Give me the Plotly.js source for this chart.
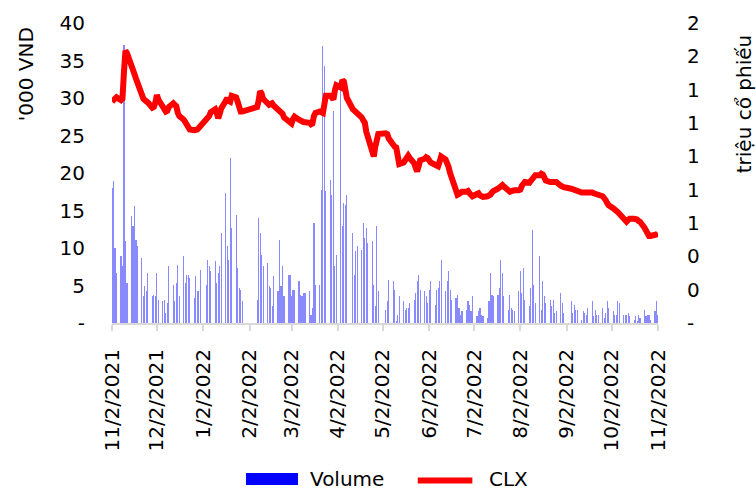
<!DOCTYPE html>
<html>
<head>
<meta charset="utf-8">
<script src="https://cdn.plot.ly/plotly-3.0.1.min.js"></script>
<style>
  html, body { margin: 0; padding: 0; background: #fff; }
  #chart { width: 756px; height: 491px; }
</style>
</head>
<body>
<div id="chart"></div>
<script>
// Trading calendar (weekdays minus market holidays)
const firstDay = '2021-11-02';
const lastDay = '2022-11-02';
const holidays = ['2022-01-03', '2022-01-31', '2022-02-01', '2022-02-02', '2022-02-03',
  '2022-02-04', '2022-04-11', '2022-05-02', '2022-05-03', '2022-09-01', '2022-09-02'];

// CLX close, '000 VND (one value per trading day, by month)
const price = [
  29.5, 29.8, 30.0, 30.1, 29.7, 29.9, 33.5, 36.3, 36.0, 34.6, 34.0, 33.2, 32.6, 32.0, 30.3, 29.9, 29.7, 29.6, 29.4, 28.7, 28.8, // Nov 21
  29.4, 30.4, 29.8, 28.8, 28.3, 28.2, 28.3, 28.8, 29.3, 29.2, 28.9, 28.0, 27.6, 27.1, 26.8, 26.4, 26.1, 25.8, 25.7, 25.7, 25.8, 26.0, 26.2, // Dec 21
  27.1, 27.2, 27.6, 28.1, 28.5, 28.0, 27.3, 27.9, 28.6, 29.6, 30.0, 29.6, 29.5, 30.3, 30.1, 29.5, 28.3, 28.2, 28.2, // Jan 22
  28.8, 29.6, 30.9, 30.6, 29.9, 29.3, 29.1, 29.2, 29.3, 29.0, 28.5, 28.3, 28.2, 27.9, 27.4, 27.0, // Feb 22
  26.8, 26.6, 27.2, 27.5, 27.1, 27.1, 26.9, 26.8, 26.8, 26.7, 26.5, 26.6, 27.6, 28.0, 28.2, 28.1, 28.0, 29.2, 30.3, 30.3, 30.0, 29.8, 31.0, // Mar 22
  31.7, 31.4, 32.4, 32.2, 31.3, 30.0, 28.5, 28.3, 28.2, 28.1, 27.4, 27.0, 26.7, 25.5, 24.8, 23.0, 22.2, 23.5, 24.6, 25.2, // Apr 22
  25.3, 25.2, 24.6, 23.6, 23.5, 23.4, 22.5, 21.2, 21.4, 21.7, 22.1, 22.3, 22.0, 21.3, 20.7, 20.2, 20.9, 21.7, 21.9, 22.1, // May 22
  22.0, 21.7, 21.4, 21.1, 20.9, 20.9, 21.5, 22.2, 21.8, 21.4, 20.8, 20.0, 19.3, 17.6, 17.1, 17.2, 17.5, 17.5, 17.5, 17.6, 17.3, 17.0, // Jun 22
  16.9, 17.2, 17.3, 17.0, 16.8, 16.8, 16.9, 16.9, 17.1, 17.4, 17.6, 17.9, 18.0, 18.2, 18.4, 18.2, 17.6, 17.5, 17.6, 17.7, 17.7, // Jul 22
  17.7, 17.8, 18.3, 18.8, 18.8, 18.7, 18.9, 19.1, 19.4, 19.7, 19.7, 19.9, 19.8, 19.3, 19.0, 18.8, 18.9, 18.8, 18.8, 18.8, 18.3, 18.1, 18.1, // Aug 22
  17.9, 17.8, 17.7, 17.6, 17.5, 17.4, 17.4, 17.4, 17.5, 17.6, 17.4, 17.3, 17.3, 17.2, 17.1, 16.9, 16.7, 16.4, 16.0, 15.7, // Sep 22
  15.3, 15.2, 15.0, 14.8, 14.6, 13.8, 13.6, 13.5, 13.7, 13.9, 13.9, 13.9, 13.8, 13.6, 13.5, 12.7, 12.2, 11.8, 11.6, 11.6, 11.7, // Oct 22
  11.8, 12.0 // Nov 22
];

// Volume, million shares
const volume = [
  0.81, 0.85, 0.45, 0.30, 0.40, 0.34, 1.67, 0.49, 0.24, 0.64, 0.58, 0.70, 0.50, 0.46, 0.39, 0.16, 0.22, 0.19, 0.30, 0.16, 0.17,
  0.16, 0.30, 0.14, 0.13, 0.14, 0.06, 0.12, 0.34, 0.23, 0.13, 0.24, 0.35, 0.16, 0.40, 0.24, 0.29, 0.29, 0.27, 0.15, 0.28, 0.19, 0.19, 0.32,
  0.23, 0.38, 0.34, 0.31, 0.37, 0.24, 0.30, 0.34, 0.54, 0.78, 0.46, 0.38, 0.99, 0.57, 0.65, 0.33, 0.21, 0.20, 0.13,
  0.14, 0.63, 0.54, 0.41, 0.34, 0.36, 0.22, 0.21, 0.10, 0.28, 0.19, 0.50, 0.22, 0.34, 0.16, 0.29,
  0.29, 0.16, 0.20, 0.20, 0.25, 0.17, 0.16, 0.18, 0.18, 0.19, 0.05, 0.09, 0.60, 0.23, 0.23, 0.80, 1.66, 1.54, 0.79, 0.86, 0.77, 1.27, 0.34,
  0.41, 1.44, 0.58, 0.72, 0.71, 0.77, 0.54, 0.29, 0.43, 0.46, 0.44, 0.60, 0.51, 0.57, 0.48, 0.49, 0.23, 0.10, 0.58, 0.19,
  0.08, 0.13, 0.26, 0.25, 0.20, 0.01, 0.05, 0.16, 0.13, 0.08, 0.09, 0.09, 0.12, 0.14, 0.18, 0.25, 0.29, 0.20, 0.19, 0.16,
  0.12, 0.20, 0.25, 0.11, 0.20, 0.21, 0.25, 0.38, 0.19, 0.25, 0.31, 0.20, 0.14, 0.15, 0.17, 0.09, 0.05, 0.07, 0.08, 0.13, 0.11, 0.07,
  0.16, 0.04, 0.07, 0.09, 0.05, 0.04, 0.03, 0.13, 0.30, 0.17, 0.16, 0.17, 0.21, 0.38, 0.30, 0.16, 0.08, 0.17, 0.09, 0.08, 0.07,
  0.19, 0.31, 0.18, 0.33, 0.14, 0.10, 0.21, 0.56, 0.23, 0.12, 0.40, 0.08, 0.25, 0.16, 0.12, 0.14, 0.10, 0.14, 0.06, 0.07, 0.18, 0.12, 0.06,
  0.13, 0.06, 0.11, 0.08, 0.08, 0.02, 0.07, 0.06, 0.05, 0.09, 0.13, 0.04, 0.08, 0.05, 0.05, 0.09, 0.03, 0.06, 0.13, 0.09,
  0.07, 0.05, 0.05, 0.13, 0.12, 0.05, 0.05, 0.05, 0.06, 0.04, 0.02, 0.04, 0.01, 0.05, 0.03, 0.08, 0.04, 0.05, 0.05, 0.02, 0.07,
  0.13, 0.05
];

// Axis ticks
const dateTicks = ['2021-11-02', '2021-12-02', '2022-01-02', '2022-02-02', '2022-03-02', '2022-04-02', '2022-05-02',
  '2022-06-02', '2022-07-02', '2022-08-02', '2022-09-02', '2022-10-02', '2022-11-02'];
const dateLabels = ['11/2/2021', '12/2/2021', '1/2/2022', '2/2/2022', '3/2/2022', '4/2/2022', '5/2/2022',
  '6/2/2022', '7/2/2022', '8/2/2022', '9/2/2022', '10/2/2022', '11/2/2022'];
const priceTicks = [0, 5, 10, 15, 20, 25, 30, 35, 40];
const priceLabels = ['-', '5', '10', '15', '20', '25', '30', '35', '40'];
const volTicks = [0, 0.2, 0.4, 0.6, 0.8, 1.0, 1.2, 1.4, 1.6, 1.8];
const volLabels = ['-', '0', '0', '1', '1', '1', '1', '1', '2', '2'];

function tradingDays(start, end, skip) {
  const out = [];
  const d = new Date(start + 'T00:00:00Z');
  const stop = new Date(end + 'T00:00:00Z');
  while (d <= stop) {
    const iso = d.toISOString().slice(0, 10);
    const wd = d.getUTCDay();
    if (wd !== 0 && wd !== 6 && skip.indexOf(iso) < 0) out.push(iso);
    d.setUTCDate(d.getUTCDate() + 1);
  }
  return out;
}

const dates = tradingDays(firstDay, lastDay, holidays);
const font = 'DejaVu Sans, Verdana, sans-serif';

const data = [
  {
    type: 'bar',
    name: 'Volume',
    x: dates,
    y: volume,
    yaxis: 'y',
    width: 86400000 * 0.75,
    marker: { color: 'rgba(60,60,255,0.6)', line: { width: 0 } },
    showlegend: false,
    hoverinfo: 'x+y'
  },
  {
    type: 'scatter',
    mode: 'lines',
    name: 'CLX',
    x: dates,
    y: price,
    yaxis: 'y2',
    line: { color: '#ff0000', width: 6 },
    showlegend: false
  }
];

const layout = {
  width: 756,
  height: 491,
  margin: { l: 112, r: 98, t: 23, b: 168 },
  paper_bgcolor: '#fff',
  plot_bgcolor: '#fff',
  font: { family: font, size: 20, color: '#000' },
  bargap: 0,
  xaxis: {
    type: 'date',
    range: [firstDay, lastDay],
    tickvals: dateTicks,
    ticktext: dateLabels,
    tickangle: -90,
    showgrid: false,
    zeroline: false,
    showline: true,
    linecolor: '#d9d9d9',
    linewidth: 2,
    ticks: 'outside',
    ticklen: 6,
    tickwidth: 2,
    tickcolor: '#d9d9d9',
    ticklabelstandoff: 10,
    tickfont: { family: font, size: 20, color: '#000' }
  },
  yaxis: {
    side: 'right',
    range: [0, 1.8],
    tickvals: volTicks,
    ticktext: volLabels,
    showgrid: false,
    zeroline: false,
    showline: false,
    ticks: '',
    ticklabelstandoff: 28,
    tickfont: { family: font, size: 20, color: '#000' }
  },
  yaxis2: {
    overlaying: 'y',
    side: 'left',
    range: [0, 40],
    tickvals: priceTicks,
    ticktext: priceLabels,
    showgrid: false,
    zeroline: false,
    showline: false,
    ticks: '',
    ticklabelstandoff: 26,
    tickfont: { family: font, size: 20, color: '#000' }
  },
  annotations: [
    { text: "'000 VND", xref: 'paper', yref: 'paper', x: -0.157, y: 0.83, textangle: -90,
      showarrow: false, xanchor: 'center', yanchor: 'middle', font: { family: font, size: 20 } },
    { text: 'triệu cổ phiếu', xref: 'paper', yref: 'paper', x: 1.158, y: 0.73, textangle: -90,
      showarrow: false, xanchor: 'center', yanchor: 'middle', font: { family: font, size: 20 } },
    { text: 'Volume', xref: 'paper', yref: 'paper', x: 0.359, y: -0.52,
      showarrow: false, xanchor: 'left', yanchor: 'middle', font: { family: font, size: 20 } },
    { text: 'CLX', xref: 'paper', yref: 'paper', x: 0.687, y: -0.52,
      showarrow: false, xanchor: 'left', yanchor: 'middle', font: { family: font, size: 20 } }
  ],
  shapes: [
    { type: 'rect', xref: 'paper', yref: 'paper', x0: 0.2454, x1: 0.3407, y0: -0.54, y1: -0.50,
      fillcolor: '#0000ff', line: { width: 0 } },
    { type: 'line', xref: 'paper', yref: 'paper', x0: 0.56, x1: 0.66, y0: -0.525, y1: -0.525,
      line: { color: '#ff0000', width: 6 } }
  ]
};

Plotly.newPlot('chart', data, layout, { displayModeBar: false, staticPlot: true });
</script>
</body>
</html>
